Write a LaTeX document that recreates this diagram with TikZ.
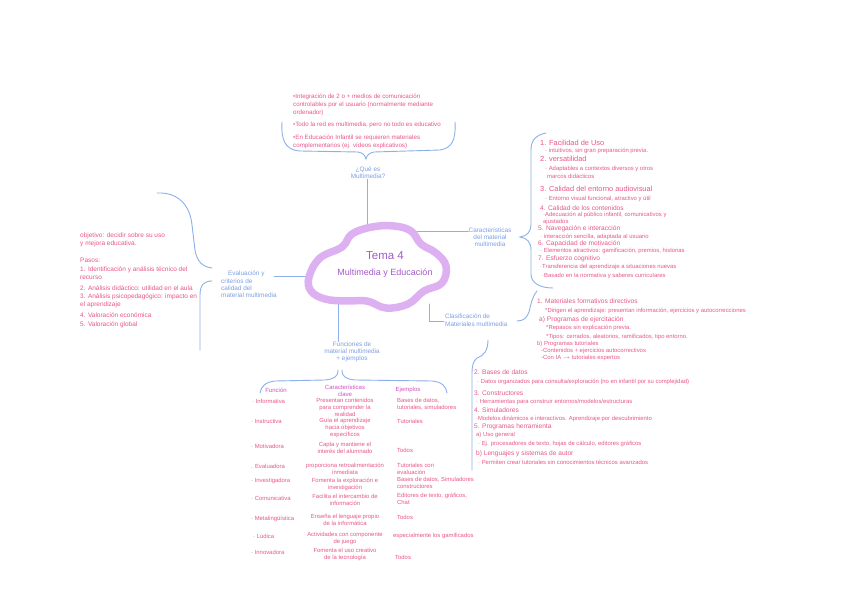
\documentclass[tikz,border=0pt]{standalone}
\usepackage{fontspec}
\setmainfont{Liberation Sans}
\definecolor{pinkt}{HTML}{E8578C}
\definecolor{bluel}{HTML}{8DB0EA}
\definecolor{bluet}{HTML}{7C9FE2}
\definecolor{purp}{HTML}{A35BCB}
\definecolor{cloudc}{HTML}{DDB0F2}
\definecolor{headc}{HTML}{CF4FBE}
\begin{document}
\begin{tikzpicture}[x=1pt,y=-1pt,
  pk/.style={text=pinkt,inner sep=0,anchor=west},
  pa/.style={font=\fontsize{5.9}{6.5}\selectfont},
  pt/.style={font=\fontsize{6.2}{7.5}\selectfont},
  pb/.style={font=\fontsize{6.6}{7.5}\selectfont},
  pc/.style={font=\fontsize{7.4}{8}\selectfont},
  pl/.style={font=\fontsize{6.5}{8}\selectfont},
  bl/.style={text=bluet,inner sep=0,align=center,font=\fontsize{6.4}{7.3}\selectfont},
  hd/.style={text=headc,inner sep=0,align=center,font=\fontsize{6}{7}\selectfont},
  cell/.style={text=pinkt,inner sep=0,font=\fontsize{5.9}{6.9}\selectfont},
  ln/.style={draw=bluel,line width=0.9pt,line cap=round}]
\useasboundingbox[fill=white] (0,0) rectangle (848,609);

% ---- coordinates on the cloud
\coordinate (cT) at (367,228);
\coordinate (cR) at (413,231);
\coordinate (cL) at (305,276);
\coordinate (cB) at (338,302);
\coordinate (cBR) at (429,304);

% ---- top
\node[bl] (qm) at (368,173) {¿Qué es\\Multimedia?};
\draw[ln] (qm.south -| cT) -- (cT);
\coordinate (tb1) at (282,122);
\coordinate (tb2) at (455,122);
\draw[ln] (tb1) .. controls (281,140) and (285,150) .. (300,151) -- (358,152) .. controls (363,153) and (365,155) .. (366,159) .. controls (367,155) and (369,153) .. (374,152) -- (440,150) .. controls (452,148) and (456,140) .. (tb2);

\node[pk,pt] (t1) at (293,97) {•Integración de 2 o + medios de comunicación};
\node[pk,pt] (t2) at (293,105) {controlables por el usuario (normalmente mediante};
\node[pk,pt] (t3) at (293,113) {ordenador)};
\node[pk,pt] (t4) at (293,125) {•Todo la red es multimedia, pero no todo es educativo};
\node[pk,pt] (t5) at (293,138) {•En Educación Infantil se requieren materiales};
\node[pk,pt] (t6) at (293,146) {complementarios (ej. vídeos explicativos)};

% ---- right: características
\node[bl] (car) at (490,237) {Características\\del material\\multimedia};
\draw[ln] (cR) -- (car.west |- cR);
\draw[ln] (546,133) .. controls (536,135) and (531,140) .. (531,150) -- (531,224) .. controls (531,232) and (527,236) .. (520,237) .. controls (527,238) and (531,242) .. (531,250) -- (531,274) .. controls (531,283) and (540,288) .. (553,288);

\node[pk,pc] (r1) at (540,143) {1. Facilidad de Uso};
\node[pk,pa] (r2) at (545,151) {· intuitivos, sin gran preparación previa.};
\node[pk,pc] (r3) at (540,159) {2. versatilidad};
\node[pk,pa] (r4) at (545,169) {· Adaptables a contextos diversos y otros};
\node[pk,pa] (r5) at (547,176) {marcos didácticos};
\node[pk,pc] (r6) at (540,189) {3. Calidad del entorno audiovisual};
\node[pk,pa] (r7) at (545,199) {· Entorno visual funcional, atractivo y útil};
\node[pk,pb] (r8) at (540,208) {4. Calidad de los contenidos};
\node[pk,pa] (r9) at (543,215) {·Adecuación al público infantil, comunicativos y};
\node[pk,pa] (r10) at (543,222) {ajustados};
\node[pk,pb] (r11) at (538,229) {5. Navegación e interacción};
\node[pk,pa] (r12) at (540,237) {· interacción sencilla, adaptada al usuario};
\node[pk,pb] (r13) at (538,244) {6. Capacidad de motivación};
\node[pk,pa] (r14) at (540,251) {· Elementos atractivos: gamificación, premios, historias};
\node[pk,pb] (r15) at (538,259) {7. Esfuerzo cognitivo};
\node[pk,pa] (r16) at (540,267) {·Transferencia del aprendizaje a situaciones nuevas};
\node[pk,pa] (r17) at (542,276) {·Basado en la normativa y saberes curriculares};

% ---- right: clasificación
\node[bl,anchor=north west,align=left] (cla) at (445,314) {Clasificación de\\Materiales multimedia};
\draw[ln] (cBR) -- (429,321) -- (444,321);
\draw[ln] (537,291) .. controls (532,297) and (531,304) .. (529,312) .. controls (527,318) and (523,321) .. (517,321);
\draw[ln] (488,340) .. controls (488,350) and (484,356) .. (477,358) .. controls (473,361) and (472,366) .. (472,374) -- (472,470);

\node[pk,pb] (m1) at (537,301) {1. Materiales formativos directivos};
\node[pk,pa] (m2) at (545,311) {*Dirigen el aprendizaje: presentan información, ejercicios y autocorrecciones};
\node[pk,pb] (m3) at (539,320) {a) Programas de ejercitación};
\node[pk,pa] (m4) at (546,328) {*Repasos sin explicación previa.};
\node[pk,pa] (m5) at (546,337) {*Tipos: cerrados, aleatorios, ramificados, tipo entorno.};
\node[pk,pa] (m6) at (537,344) {b) Programas tutoriales};
\node[pk,pa] (m7) at (541,351) {-Contenidos + ejercicios autocorrectivos};
\node[pk,pa] (m8) at (541,358) {-Con IA $\to$ tutoriales expertos};

\node[pk,pb] (l1) at (474,372) {2. Bases de datos};
\node[pk,pa] (l2) at (477,382) {· Datos organizados para consulta/exploración (no en infantil por su complejidad)};
\node[pk,pb] (l3) at (474,393) {3. Constructores};
\node[pk,pa] (l4) at (476,402) {· Herramientas para construir entornos/modelos/estructuras};
\node[pk,pb] (l5) at (474,410) {4. Simuladores};
\node[pk,pa] (l6) at (476,419) {·Modelos dinámicos e interactivos. Aprendizaje por descubrimiento};
\node[pk,pb] (l7) at (474,427) {5. Programas herramienta};
\node[pk,pa] (l8) at (476,435) {a) Uso general};
\node[pk,pa] (l9) at (478,444) {· Ej. procesadores de texto, hojas de cálculo, editores gráficos};
\node[pk,pb] (l10) at (476,454) {b) Lenguajes y sistemas de autor};
\node[pk,pa] (l11) at (478,462) {· Permiten crear tutoriales sin conocimientos técnicos avanzados};

% ---- left: evaluación
\node[bl,anchor=north west,align=left] (ev) at (221,271) {\hspace*{7pt}Evaluación y\\criterios de\\calidad del\\material multimedia};
\draw[ln] (cL) -- (274,276);
\draw[ln] (157,193) .. controls (178,192) and (190,205) .. (192,225) -- (195,250) .. controls (197,262) and (203,267) .. (212,268);
\draw[ln] (212,281) .. controls (204,281) and (200,285) .. (200,295) -- (200,350);

\node[pk,pl] (e1) at (80,236) {objetivo: decidir sobre su uso};
\node[pk,pl] (e2) at (80,244) {y mejora educativa.};
\node[pk,pl] (e3) at (80,260) {Pasos:};
\node[pk,pl] (e4) at (80,270) {1. Identificación y análisis técnico del};
\node[pk,pl] (e5) at (80,278) {recurso};
\node[pk,pl] (e6) at (80,288) {2. Análisis didáctico: utilidad en el aula};
\node[pk,pl] (e7) at (80,297) {3. Análisis psicopedagógico: impacto en};
\node[pk,pl] (e8) at (80,305) {el aprendizaje};
\node[pk,pl] (e9) at (80,315) {4. Valoración económica};
\node[pk,pl] (e10) at (80,325) {5. Valoración global};

% ---- bottom: funciones
\node[bl] (fun) at (352,352) {Funciones de\\material multimedia\\+ ejemplos};
\draw[ln] (cB) -- (cB |- fun.north);
\draw[ln] (338,370) .. controls (338,377) and (334,379) .. (325,380) -- (275,381) .. controls (266,382) and (261,386) .. (260,393);
\draw[ln] (342,370) .. controls (342,377) and (346,379) .. (355,380) -- (432,381) .. controls (442,382) and (446,386) .. (447,393);

% cloud
\draw[cloudc,line width=7.5pt,fill=white,line join=round] plot[smooth cycle,tension=0.65] coordinates {(309,277) (320,258) (342,247) (352,234) (372,227) (394,226) (411,231) (421,244) (436,253) (446,266) (442,283) (424,291) (408,304) (386,308) (367,301) (346,301) (325,299) (311,291)};
\node[text=purp,inner sep=0,font=\fontsize{11.5}{12}\selectfont] (tema) at (385,256) {Tema 4};
\node[text=purp,inner sep=0,font=\fontsize{9}{10}\selectfont] (mye) at (385,273) {Multimedia y Educación};

% table
\node[hd] (h1) at (276,390) {Función};
\node[hd] (h2) at (345,391) {Características\\clave};
\node[hd] (h3) at (408,390) {Ejemplos};

\node[cell,anchor=west] (f1) at (252,401) {· Informativa};
\node[cell,anchor=north,align=center] (c1) at (345,398) {Presentan contenidos\\para comprender la\\realidad};
\node[cell,anchor=north west,align=left] (x1) at (397,398) {Bases de datos,\\tutoriales, simuladores};

\node[cell,anchor=west] (f2) at (251,421) {· Instructiva};
\node[cell,anchor=north,align=center] (c2) at (345,418) {Guía el aprendizaje\\hacia objetivos\\específicos};
\node[cell,anchor=west] (x2) at (397,421) {Tutoriales};

\node[cell,anchor=west] (f3) at (251,446) {· Motivadora};
\node[cell,anchor=north,align=center] (c3) at (345,442) {Capta y mantiene el\\interés del alumnado};
\node[cell,anchor=west] (x3) at (397,450) {Todos};

\node[cell,anchor=west] (f4) at (251,466) {. Evaluadora};
\node[cell,anchor=north,align=center] (c4) at (345,463) {proporciona retroalimentación\\inmediata};
\node[cell,anchor=north west,align=left] (x4) at (397,463) {Tutoriales con\\evaluación};

\node[cell,anchor=west] (f5) at (251,481) {· Investigadora};
\node[cell,anchor=north,align=center] (c5) at (345,478) {Fomenta la exploración e\\investigación};
\node[cell,anchor=north west,align=left] (x5) at (397,477) {Bases de datos, Simuladores\\constructores};

\node[cell,anchor=west] (f6) at (251,498) {· Comunicativa};
\node[cell,anchor=north,align=center] (c6) at (345,494) {Facilita el intercambio de\\información};
\node[cell,anchor=north west,align=left] (x6) at (397,493) {Editores de texto, gráficos,\\Chat};

\node[cell,anchor=west] (f7) at (251,519) {· Metalingüística};
\node[cell,anchor=north,align=center] (c7) at (345,514) {Enseña el lenguaje propio\\de la informática};
\node[cell,anchor=west] (x7) at (397,517) {Todos};

\node[cell,anchor=west] (f8) at (253,536) {· Lúdica};
\node[cell,anchor=north,align=center] (c8) at (345,532) {Actividades con componente\\de juego};
\node[cell,anchor=west] (x8) at (393,536) {especialmente los gamificados};

\node[cell,anchor=west] (f9) at (251,552) {· Innovadora};
\node[cell,anchor=north,align=center] (c9) at (345,548) {Fomenta el uso creativo\\de la tecnología};
\node[cell,anchor=west] (x9) at (395,557) {Todos};
\end{tikzpicture}
\end{document}
